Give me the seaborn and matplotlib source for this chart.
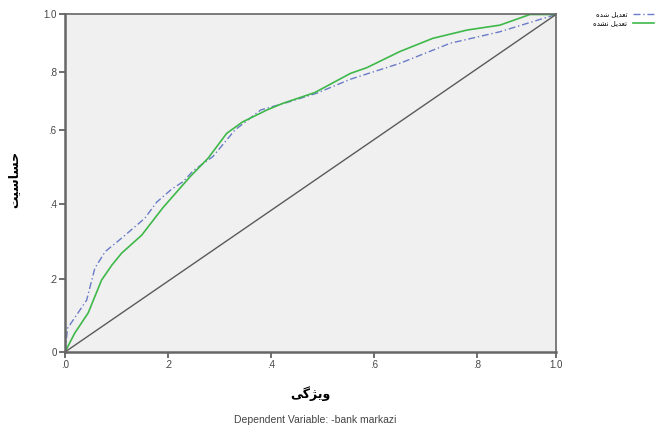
import numpy as np
import pandas as pd
import matplotlib
matplotlib.use("Agg")
import matplotlib.pyplot as plt
import seaborn as sns

# ROC curves (1 - specificity, sensitivity)
fpr_adj = [0.0, 0.005, 0.042, 0.058, 0.078, 0.110, 0.155, 0.178, 0.207, 0.229, 0.249,
           0.287, 0.330, 0.380, 0.437, 0.489, 0.554, 0.650, 0.748, 0.858, 1.0]
tpr_adj = [0.0, 0.065, 0.142, 0.229, 0.273, 0.309, 0.362, 0.405, 0.440, 0.460, 0.490,
           0.528, 0.600, 0.669, 0.698, 0.727, 0.775, 0.830, 0.900, 0.940, 1.0]

fpr_unadj = [0.0, 0.019, 0.045, 0.071, 0.091, 0.110, 0.149, 0.190, 0.243, 0.278, 0.314,
             0.345, 0.392, 0.423, 0.485, 0.554, 0.586, 0.650, 0.714, 0.781, 0.858, 0.934, 1.0]
tpr_unadj = [0.0, 0.052, 0.107, 0.197, 0.237, 0.269, 0.317, 0.390, 0.474, 0.524, 0.591,
             0.628, 0.669, 0.692, 0.729, 0.795, 0.815, 0.871, 0.917, 0.946, 0.963, 1.0, 1.0]

ref_line = [0.0, 1.0]

tick_vals = [0.0, 0.2, 0.4, 0.6, 0.8, 1.0]
x_tick_labels = [".0", ".2", ".4", ".6", ".8", "1.0"]
y_tick_labels = ["0", ".2", ".4", ".6", ".8", "1.0"]

# persian text, written as presentation forms in visual order
label_adj = "\uFEE9\uFEAA\uFEB7 \uFEDE\uFEF3\uFEAA\uFECC\uFE97"      # تعدیل شده
label_unadj = "\uFEE9\uFEAA\uFEB8\uFEE7 \uFEDE\uFEF3\uFEAA\uFECC\uFE97"  # تعدیل نشده
y_title = "\uFE96\uFEF4\uFEB3\uFE8E\uFEB4\uFEA3"   # حساسیت
x_title = "\uFEF0\uFB94\uFB8B\uFEF3\uFEED"         # ویژگی
caption = "Dependent Variable: -bank markazi"

# the scanned chart is not evenly spaced, so use piecewise axis scales
x_knots = [0, 103, 206, 309, 412, 491]
y_knots = [0, 73, 148, 222, 280, 337.5]


def piecewise(knots):
    fwd = lambda v: np.interp(v, tick_vals, knots)
    inv = lambda v: np.interp(v, knots, tick_vals)
    return fwd, inv


def main():
    plt.rcParams['font.family'] = ['Liberation Sans', 'DejaVu Sans']
    fig = plt.figure(figsize=(6.64, 4.36), dpi=100)
    ax = fig.add_axes([65 / 664, 1 - 352 / 436, 491 / 664, 337.5 / 436])
    ax.set_facecolor("#f0f0f0")

    df_adj = pd.DataFrame({"fpr": fpr_adj, "tpr": tpr_adj})
    df_unadj = pd.DataFrame({"fpr": fpr_unadj, "tpr": tpr_unadj})

    sns.lineplot(data=df_adj, x="fpr", y="tpr", ax=ax, sort=False, estimator=None,
                 color="#6a7bc8", linestyle=(0, (5, 2, 1, 2)), linewidth=1.0, label=label_adj)
    sns.lineplot(data=df_unadj, x="fpr", y="tpr", ax=ax, sort=False, estimator=None,
                 color="#3fb84a", linewidth=1.2, label=label_unadj)
    sns.lineplot(x=ref_line, y=ref_line, ax=ax, color="#5a5a5a", linewidth=1.0)

    ax.set_xscale("function", functions=piecewise(x_knots))
    ax.set_yscale("function", functions=piecewise(y_knots))
    ax.set_xlim(0, 1)
    ax.set_ylim(0, 1)
    ax.set_xticks(tick_vals)
    ax.set_xticklabels(x_tick_labels, fontsize=7, color="#444444")
    ax.set_yticks(tick_vals)
    ax.set_yticklabels(y_tick_labels, fontsize=7, color="#444444")
    ax.xaxis.set_minor_locator(plt.NullLocator())
    ax.yaxis.set_minor_locator(plt.NullLocator())
    ax.tick_params(length=4, width=1.2, color="#555555", pad=2)

    for s in ax.spines.values():
        s.set_color("#666666")
        s.set_linewidth(1.2)
    ax.spines["bottom"].set_linewidth(1.8)
    ax.spines["left"].set_linewidth(1.8)

    ax.set_xlabel(x_title, fontsize=9, fontweight="bold")
    ax.set_ylabel(y_title, fontsize=9, fontweight="bold")
    ax.xaxis.set_label_coords(0.5, -0.1)
    ax.yaxis.set_label_coords(-0.092, 0.51)

    handles, labels = ax.get_legend_handles_labels()
    ax.get_legend().remove()
    fig.legend(handles, labels, loc="upper left", bbox_to_anchor=(590 / 664, 1 - 8 / 436),
               frameon=False, fontsize=5, markerfirst=False, handlelength=3,
               labelspacing=0.3, borderpad=0)

    fig.text(315 / 664, 1 - 420 / 436, caption, ha="center", va="center",
             fontsize=7.5, color="#444444")

    plt.savefig("out.png", dpi=100)


if __name__ == "__main__":
    main()
